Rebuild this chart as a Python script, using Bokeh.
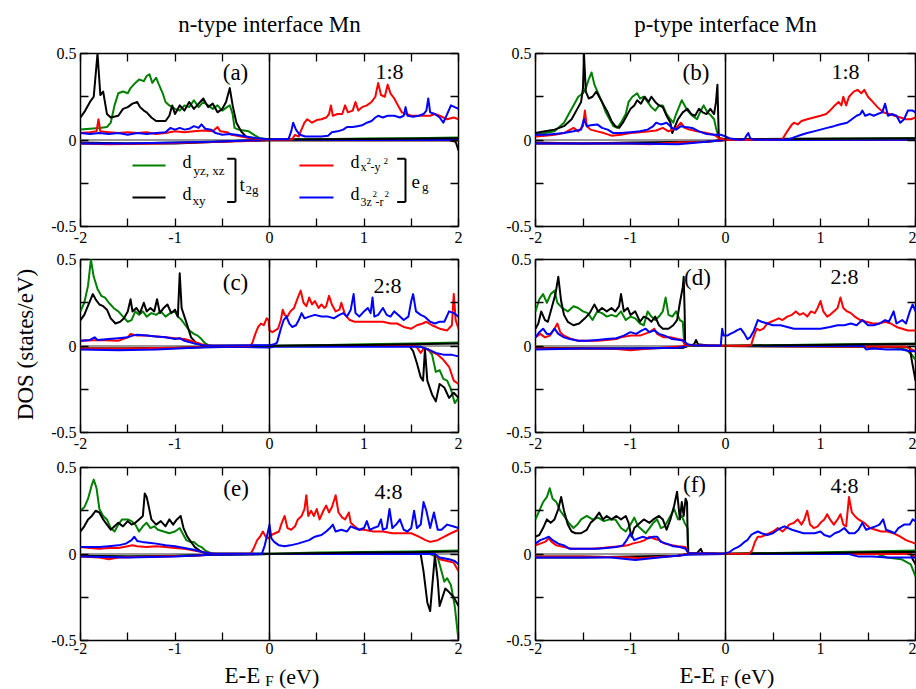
import math
from bokeh.plotting import figure
from bokeh.models import (Range1d, FixedTicker, Span, Label, LinearAxis,
                          CustomJSTickFormatter)
from bokeh.layouts import column, row
from bokeh.embed import file_html
from bokeh.resources import INLINE

FONT = "'Liberation Serif', 'Times New Roman', serif"
COL_YZ, COL_XY, COL_X2, COL_3Z = "#008000", "#000000", "#ff0000", "#0000ff"

X_TICKS = [-2, -1, 0, 1, 2]
X_MINOR = [-1.5, -0.5, 0.5, 1.5]
Y_TICKS = [-0.5, 0, 0.5]
Y_MINOR = [-0.25, 0.25]

COL_TITLES = ["n-type interface Mn", "p-type interface Mn"]
Y_TITLE = "DOS (states/eV)"
PANEL_TAGS = ["(a)", "(b)", "(c)", "(d)", "(e)", "(f)"]
RATIOS = ["1:8", "1:8", "2:8", "2:8", "4:8", "4:8"]
# (tag E, tag D-baseline, ratio E, ratio D-baseline)
TAG_POS = [(-0.36, 0.344, 1.27, 0.355), (-0.311, 0.344, 1.263, 0.355),
           (-0.36, 0.321, 1.249, 0.309), (-0.295, 0.350, 1.253, 0.361),
           (-0.354, 0.332, 1.259, 0.321), (-0.326, 0.355, 1.253, 0.355)]

# ---------------- panel (a): n-type 1:8 ----------------
A_YZ = [(-2.0,0.06),(-1.9,0.065),(-1.8,0.07),(-1.72,0.075),(-1.68,0.1),(-1.64,0.2),(-1.6,0.27),(-1.55,0.28),(-1.5,0.27),(-1.47,0.3),(-1.42,0.33),(-1.38,0.35),(-1.33,0.34),(-1.3,0.37),(-1.27,0.38),(-1.24,0.33),(-1.2,0.36),(-1.17,0.32),(-1.13,0.27),(-1.1,0.22),(-1.06,0.2),(-1.0,0.18),(-0.95,0.17),(-0.9,0.2),(-0.85,0.19),(-0.8,0.23),(-0.75,0.19),(-0.7,0.22),(-0.65,0.2),(-0.6,0.18),(-0.55,0.2),(-0.5,0.17),(-0.45,0.19),(-0.42,0.2),(-0.39,0.15),(-0.37,0.07),(-0.33,0.06),(-0.27,0.055),(-0.22,0.05),(-0.15,0.025),(-0.1,0.01),(0.0,0.005),(0.5,0.005),(1.0,0.008),(1.5,0.01),(2.0,0.015)]
A_XY = [(-2.0,0.13),(-1.95,0.17),(-1.9,0.22),(-1.86,0.25),(-1.82,0.5),(-1.79,0.26),(-1.76,0.28),(-1.72,0.15),(-1.68,0.13),(-1.6,0.14),(-1.55,0.18),(-1.5,0.19),(-1.45,0.21),(-1.4,0.22),(-1.37,0.19),(-1.33,0.17),(-1.3,0.16),(-1.25,0.13),(-1.2,0.11),(-1.1,0.11),(-1.06,0.14),(-1.03,0.2),(-1.0,0.15),(-0.95,0.2),(-0.9,0.17),(-0.85,0.22),(-0.8,0.18),(-0.75,0.21),(-0.7,0.24),(-0.65,0.19),(-0.6,0.21),(-0.55,0.16),(-0.5,0.18),(-0.46,0.22),(-0.42,0.3),(-0.39,0.2),(-0.35,0.1),(-0.3,0.05),(-0.25,0.02),(-0.2,0.01),(-0.1,0.005),(0.0,0.003),(1.0,0.006),(2.0,0.01)]
A_X2 = [(-2.0,0.04),(-1.9,0.045),(-1.83,0.05),(-1.81,0.12),(-1.79,0.05),(-1.7,0.045),(-1.6,0.04),(-1.5,0.045),(-1.4,0.04),(-1.3,0.045),(-1.2,0.035),(-1.1,0.04),(-1.0,0.05),(-0.9,0.045),(-0.8,0.05),(-0.7,0.055),(-0.6,0.05),(-0.55,0.075),(-0.52,0.05),(-0.45,0.045),(-0.4,0.03),(-0.3,0.02),(-0.2,0.01),(-0.1,0.005),(0.0,0.002),(0.2,0.002),(0.24,0.005),(0.27,0.03),(0.31,0.02),(0.33,0.05),(0.37,0.1),(0.4,0.12),(0.45,0.1),(0.5,0.115),(0.55,0.12),(0.6,0.13),(0.63,0.15),(0.65,0.2),(0.67,0.14),(0.72,0.15),(0.77,0.15),(0.8,0.2),(0.83,0.16),(0.88,0.17),(0.91,0.22),(0.94,0.17),(0.98,0.19),(1.03,0.2),(1.08,0.22),(1.12,0.25),(1.15,0.33),(1.18,0.26),(1.22,0.25),(1.25,0.32),(1.28,0.27),(1.32,0.24),(1.36,0.2),(1.4,0.16),(1.45,0.15),(1.5,0.14),(1.6,0.14),(1.7,0.14),(1.75,0.15),(1.8,0.14),(1.88,0.12),(1.95,0.13),(2.0,0.12)]
A_3Z = [(-2.0,0.04),(-1.9,0.035),(-1.8,0.04),(-1.7,0.035),(-1.6,0.04),(-1.5,0.03),(-1.4,0.04),(-1.3,0.035),(-1.2,0.04),(-1.1,0.045),(-1.05,0.07),(-1.0,0.06),(-0.95,0.07),(-0.9,0.06),(-0.85,0.065),(-0.8,0.08),(-0.75,0.07),(-0.72,0.09),(-0.68,0.065),(-0.62,0.06),(-0.57,0.04),(-0.5,0.03),(-0.42,0.035),(-0.35,0.03),(-0.25,0.02),(-0.15,0.012),(-0.05,0.006),(0.0,0.004),(0.2,0.004),(0.23,0.05),(0.25,0.1),(0.28,0.06),(0.32,0.03),(0.38,0.02),(0.45,0.02),(0.55,0.02),(0.62,0.025),(0.66,0.045),(0.72,0.05),(0.78,0.06),(0.82,0.075),(0.88,0.075),(0.93,0.08),(0.98,0.085),(1.03,0.1),(1.08,0.11),(1.12,0.13),(1.15,0.14),(1.2,0.13),(1.25,0.14),(1.32,0.14),(1.38,0.13),(1.42,0.14),(1.44,0.19),(1.46,0.14),(1.52,0.135),(1.58,0.14),(1.63,0.15),(1.66,0.17),(1.68,0.24),(1.7,0.16),(1.75,0.15),(1.8,0.13),(1.84,0.1),(1.88,0.15),(1.92,0.2),(1.96,0.19),(2.0,0.18)]
A_YZ_DN = [(-2.0,-0.02),(-1.5,-0.02),(-1.0,-0.015),(-0.6,-0.01),(-0.3,-0.005),(0.0,-0.002),(2.0,-0.002)]
A_XY_DN = [(-2.0,-0.015),(-1.5,-0.02),(-1.0,-0.02),(-0.6,-0.012),(-0.3,-0.005),(0.0,0.0),(1.9,-0.002),(1.97,-0.01),(2.0,-0.06)]
A_X2_DN = [(-2.0,-0.02),(-1.7,-0.025),(-1.2,-0.02),(-0.8,-0.015),(-0.4,-0.008),(0.0,-0.002),(2.0,-0.002)]
A_3Z_DN = [(-2.0,-0.02),(-1.5,-0.02),(-1.0,-0.015),(-0.6,-0.01),(-0.3,-0.004),(0.0,0.0),(2.0,0.0)]

# ---------------- panel (b): p-type 1:8 ----------------
B_YZ = [(-2.0,0.03),(-1.9,0.04),(-1.8,0.05),(-1.7,0.1),(-1.65,0.15),(-1.6,0.2),(-1.55,0.25),(-1.5,0.27),(-1.47,0.3),(-1.44,0.35),(-1.41,0.39),(-1.38,0.32),(-1.34,0.27),(-1.3,0.22),(-1.26,0.16),(-1.22,0.12),(-1.18,0.08),(-1.14,0.07),(-1.1,0.1),(-1.05,0.15),(-1.02,0.22),(-0.98,0.25),(-0.93,0.27),(-0.9,0.24),(-0.86,0.25),(-0.82,0.22),(-0.78,0.19),(-0.74,0.17),(-0.7,0.2),(-0.66,0.2),(-0.62,0.15),(-0.58,0.12),(-0.55,0.1),(-0.52,0.15),(-0.49,0.19),(-0.46,0.23),(-0.43,0.2),(-0.4,0.17),(-0.35,0.14),(-0.3,0.12),(-0.26,0.17),(-0.23,0.2),(-0.19,0.16),(-0.15,0.14),(-0.12,0.12),(-0.1,0.07),(-0.07,0.01),(0.0,0.005),(2.0,0.01)]
B_XY = [(-2.0,0.04),(-1.9,0.05),(-1.8,0.06),(-1.7,0.08),(-1.62,0.12),(-1.56,0.18),(-1.52,0.22),(-1.5,0.3),(-1.49,0.5),(-1.47,0.28),(-1.44,0.24),(-1.4,0.25),(-1.36,0.28),(-1.32,0.24),(-1.28,0.2),(-1.24,0.16),(-1.2,0.11),(-1.16,0.08),(-1.12,0.07),(-1.08,0.1),(-1.04,0.14),(-1.0,0.18),(-0.96,0.2),(-0.93,0.23),(-0.89,0.21),(-0.85,0.25),(-0.81,0.22),(-0.78,0.25),(-0.74,0.22),(-0.7,0.2),(-0.66,0.19),(-0.62,0.14),(-0.58,0.1),(-0.56,0.04),(-0.53,0.08),(-0.5,0.12),(-0.45,0.16),(-0.4,0.18),(-0.36,0.15),(-0.32,0.14),(-0.28,0.18),(-0.24,0.16),(-0.2,0.15),(-0.16,0.18),(-0.12,0.15),(-0.1,0.22),(-0.085,0.32),(-0.075,0.1),(-0.07,0.01),(0.0,0.005),(2.0,0.01)]
B_X2 = [(-2.0,0.02),(-1.9,0.025),(-1.8,0.03),(-1.7,0.04),(-1.6,0.07),(-1.55,0.05),(-1.5,0.08),(-1.48,0.17),(-1.46,0.08),(-1.42,0.06),(-1.35,0.05),(-1.28,0.04),(-1.2,0.025),(-1.1,0.03),(-1.0,0.04),(-0.9,0.045),(-0.8,0.05),(-0.73,0.055),(-0.66,0.07),(-0.6,0.05),(-0.52,0.07),(-0.47,0.1),(-0.43,0.07),(-0.38,0.06),(-0.3,0.05),(-0.2,0.04),(-0.12,0.03),(-0.07,0.01),(0.0,0.002),(0.55,0.002),(0.6,0.005),(0.65,0.05),(0.7,0.09),(0.72,0.1),(0.76,0.09),(0.8,0.11),(0.86,0.12),(0.93,0.13),(1.0,0.14),(1.06,0.15),(1.1,0.17),(1.15,0.2),(1.19,0.22),(1.22,0.2),(1.24,0.25),(1.27,0.2),(1.3,0.25),(1.35,0.28),(1.39,0.29),(1.43,0.27),(1.46,0.29),(1.5,0.25),(1.55,0.22),(1.6,0.19),(1.66,0.16),(1.72,0.15),(1.78,0.14),(1.84,0.13),(1.9,0.12),(1.95,0.12),(2.0,0.13)]
B_3Z = [(-2.0,0.03),(-1.9,0.03),(-1.8,0.035),(-1.7,0.04),(-1.6,0.05),(-1.52,0.06),(-1.49,0.12),(-1.46,0.08),(-1.42,0.085),(-1.35,0.09),(-1.3,0.07),(-1.24,0.06),(-1.18,0.04),(-1.1,0.04),(-1.0,0.045),(-0.9,0.05),(-0.82,0.06),(-0.76,0.08),(-0.73,0.1),(-0.68,0.09),(-0.62,0.1),(-0.56,0.07),(-0.52,0.06),(-0.47,0.08),(-0.42,0.075),(-0.35,0.07),(-0.28,0.05),(-0.2,0.035),(-0.12,0.03),(-0.05,0.03),(0.0,0.02),(0.05,0.008),(0.15,0.002),(0.2,0.005),(0.22,0.025),(0.24,0.04),(0.26,0.01),(0.3,0.002),(0.6,0.002),(0.67,0.005),(0.72,0.015),(0.8,0.03),(0.86,0.04),(0.93,0.05),(1.0,0.06),(1.07,0.07),(1.14,0.08),(1.2,0.09),(1.28,0.1),(1.33,0.12),(1.38,0.14),(1.42,0.15),(1.44,0.17),(1.47,0.14),(1.52,0.15),(1.56,0.14),(1.6,0.15),(1.65,0.16),(1.68,0.21),(1.71,0.14),(1.75,0.15),(1.8,0.14),(1.84,0.1),(1.88,0.12),(1.92,0.17),(1.97,0.17),(2.0,0.16)]
B_YZ_DN = [(-2.0,-0.02),(-1.5,-0.02),(-1.0,-0.02),(-0.5,-0.015),(-0.2,-0.01),(0.0,0.0),(2.0,0.0)]
B_XY_DN = [(-2.0,-0.015),(-1.5,-0.02),(-1.0,-0.015),(-0.5,-0.012),(-0.2,-0.008),(0.0,0.0),(2.0,0.0)]
B_X2_DN = [(-2.0,-0.02),(-1.5,-0.02),(-1.0,-0.02),(-0.8,-0.025),(-0.5,-0.015),(-0.2,-0.01),(0.0,0.0),(2.0,0.0)]
B_3Z_DN = [(-2.0,-0.02),(-1.5,-0.02),(-1.0,-0.02),(-0.5,-0.025),(-0.2,-0.01),(0.0,0.0),(2.0,0.002)]

# ---------------- panel (c): n-type 2:8 ----------------
C_YZ = [(-2.0,0.2),(-1.96,0.25),(-1.92,0.35),(-1.89,0.5),(-1.86,0.4),(-1.82,0.33),(-1.78,0.29),(-1.74,0.28),(-1.7,0.25),(-1.65,0.22),(-1.6,0.2),(-1.55,0.17),(-1.5,0.14),(-1.46,0.15),(-1.42,0.2),(-1.38,0.18),(-1.34,0.2),(-1.3,0.17),(-1.25,0.19),(-1.2,0.18),(-1.15,0.2),(-1.1,0.17),(-1.05,0.19),(-1.0,0.2),(-0.97,0.17),(-0.93,0.15),(-0.89,0.12),(-0.85,0.09),(-0.8,0.07),(-0.76,0.06),(-0.72,0.04),(-0.69,0.02),(-0.65,0.005),(-0.6,0.002),(0.0,0.002),(0.5,0.005),(1.0,0.01),(1.5,0.015),(2.0,0.02)]
C_XY = [(-2.0,0.15),(-1.96,0.18),(-1.93,0.22),(-1.9,0.26),(-1.87,0.3),(-1.84,0.27),(-1.8,0.24),(-1.76,0.23),(-1.72,0.21),(-1.68,0.16),(-1.63,0.13),(-1.58,0.14),(-1.54,0.16),(-1.5,0.2),(-1.47,0.27),(-1.45,0.2),(-1.41,0.22),(-1.37,0.19),(-1.33,0.25),(-1.3,0.2),(-1.26,0.22),(-1.22,0.2),(-1.19,0.27),(-1.16,0.19),(-1.12,0.22),(-1.08,0.24),(-1.04,0.19),(-1.0,0.21),(-0.97,0.17),(-0.95,0.42),(-0.93,0.22),(-0.9,0.17),(-0.87,0.12),(-0.83,0.05),(-0.78,0.02),(-0.72,0.005),(-0.65,0.002),(0.0,0.002),(0.5,0.004),(1.0,0.006),(1.5,0.01),(2.0,0.015)]
C_X2 = [(-2.0,0.03),(-1.8,0.035),(-1.6,0.03),(-1.5,0.05),(-1.47,0.07),(-1.4,0.06),(-1.3,0.06),(-1.2,0.055),(-1.1,0.05),(-1.0,0.045),(-0.9,0.04),(-0.8,0.025),(-0.72,0.01),(-0.65,0.003),(-0.2,0.002),(-0.18,0.02),(-0.15,0.07),(-0.12,0.11),(-0.09,0.13),(-0.06,0.12),(-0.03,0.16),(-0.01,0.15),(0.0,0.09),(0.03,0.08),(0.06,0.09),(0.09,0.1),(0.12,0.15),(0.14,0.21),(0.16,0.18),(0.19,0.17),(0.22,0.2),(0.26,0.22),(0.3,0.28),(0.33,0.32),(0.36,0.25),(0.39,0.23),(0.42,0.28),(0.45,0.24),(0.48,0.26),(0.52,0.22),(0.55,0.24),(0.58,0.22),(0.6,0.23),(0.63,0.29),(0.66,0.24),(0.7,0.2),(0.74,0.21),(0.76,0.25),(0.8,0.18),(0.85,0.15),(0.9,0.14),(1.0,0.14),(1.1,0.14),(1.2,0.14),(1.28,0.13),(1.35,0.13),(1.42,0.11),(1.5,0.1),(1.56,0.12),(1.62,0.13),(1.66,0.14),(1.72,0.12),(1.8,0.1),(1.88,0.09),(1.93,0.12),(1.95,0.3),(1.97,0.15),(2.0,0.1)]
C_3Z = [(-2.0,0.03),(-1.9,0.035),(-1.85,0.05),(-1.82,0.035),(-1.7,0.04),(-1.6,0.045),(-1.5,0.05),(-1.45,0.06),(-1.4,0.065),(-1.3,0.06),(-1.2,0.055),(-1.1,0.05),(-1.0,0.04),(-0.95,0.045),(-0.9,0.03),(-0.8,0.015),(-0.7,0.005),(-0.6,0.002),(0.0,0.005),(0.05,0.01),(0.08,0.02),(0.1,0.06),(0.12,0.1),(0.15,0.15),(0.18,0.17),(0.21,0.13),(0.24,0.11),(0.28,0.12),(0.31,0.15),(0.34,0.19),(0.37,0.16),(0.42,0.17),(0.48,0.18),(0.55,0.17),(0.62,0.17),(0.68,0.16),(0.74,0.18),(0.78,0.19),(0.82,0.17),(0.86,0.21),(0.89,0.3),(0.91,0.19),(0.95,0.17),(1.0,0.2),(1.04,0.22),(1.07,0.19),(1.09,0.28),(1.11,0.17),(1.15,0.18),(1.2,0.22),(1.24,0.18),(1.28,0.17),(1.32,0.2),(1.36,0.18),(1.42,0.15),(1.47,0.17),(1.5,0.26),(1.52,0.3),(1.55,0.2),(1.6,0.18),(1.64,0.17),(1.7,0.14),(1.75,0.13),(1.8,0.14),(1.85,0.14),(1.9,0.2),(1.95,0.19),(2.0,0.17)]
C_YZ_DN = [(-2.0,-0.015),(-1.5,-0.015),(-1.0,-0.01),(-0.6,-0.005),(0.0,0.0),(1.5,0.0),(1.6,-0.005),(1.68,-0.02),(1.72,-0.05),(1.76,-0.15),(1.8,-0.14),(1.84,-0.19),(1.88,-0.2),(1.92,-0.25),(1.96,-0.33),(2.0,-0.3)]
C_XY_DN = [(-2.0,-0.015),(-1.5,-0.015),(-1.0,-0.012),(-0.6,-0.005),(0.0,0.0),(1.48,0.0),(1.52,-0.03),(1.56,-0.1),(1.6,-0.18),(1.625,-0.2),(1.645,-0.02),(1.67,-0.2),(1.72,-0.28),(1.76,-0.32),(1.8,-0.22),(1.85,-0.24),(1.9,-0.3),(1.95,-0.27),(2.0,-0.3)]
C_X2_DN = [(-2.0,-0.015),(-1.5,-0.015),(-1.0,-0.01),(-0.6,-0.005),(0.0,0.0),(1.55,0.0),(1.6,-0.04),(1.64,-0.01),(1.7,-0.03),(1.78,-0.05),(1.84,-0.08),(1.9,-0.12),(1.95,-0.2),(2.0,-0.22)]
C_3Z_DN = [(-2.0,-0.02),(-1.6,-0.025),(-1.2,-0.02),(-0.8,-0.01),(-0.4,-0.005),(0.0,-0.008),(0.05,-0.005),(1.6,-0.005),(1.68,-0.02),(1.76,-0.04),(1.84,-0.05),(1.92,-0.05),(2.0,-0.06)]

# ---------------- panel (d): p-type 2:8 ----------------
D_YZ = [(-2.0,0.2),(-1.96,0.27),(-1.92,0.3),(-1.88,0.25),(-1.84,0.3),(-1.8,0.32),(-1.77,0.25),(-1.72,0.22),(-1.66,0.2),(-1.6,0.23),(-1.55,0.22),(-1.5,0.2),(-1.45,0.19),(-1.4,0.15),(-1.35,0.2),(-1.3,0.19),(-1.25,0.17),(-1.2,0.18),(-1.15,0.17),(-1.1,0.2),(-1.05,0.15),(-1.0,0.17),(-0.95,0.16),(-0.9,0.13),(-0.86,0.12),(-0.82,0.2),(-0.78,0.17),(-0.74,0.15),(-0.7,0.17),(-0.66,0.2),(-0.63,0.28),(-0.6,0.18),(-0.56,0.17),(-0.52,0.2),(-0.48,0.15),(-0.45,0.14),(-0.435,0.02),(-0.4,0.002),(0.0,0.002),(0.5,0.005),(1.0,0.008),(1.5,0.012),(2.0,0.015)]
D_XY = [(-2.0,0.1),(-1.97,0.13),(-1.94,0.2),(-1.9,0.15),(-1.87,0.14),(-1.83,0.22),(-1.79,0.3),(-1.76,0.4),(-1.73,0.26),(-1.7,0.18),(-1.66,0.14),(-1.6,0.12),(-1.54,0.13),(-1.48,0.16),(-1.43,0.19),(-1.38,0.24),(-1.34,0.2),(-1.3,0.22),(-1.25,0.2),(-1.2,0.22),(-1.16,0.2),(-1.12,0.23),(-1.1,0.3),(-1.07,0.2),(-1.03,0.22),(-1.0,0.18),(-0.95,0.2),(-0.9,0.14),(-0.86,0.17),(-0.82,0.16),(-0.78,0.14),(-0.74,0.17),(-0.7,0.12),(-0.66,0.1),(-0.6,0.1),(-0.55,0.12),(-0.51,0.15),(-0.48,0.25),(-0.45,0.34),(-0.44,0.4),(-0.43,0.2),(-0.425,0.01),(-0.36,0.005),(-0.33,0.01),(-0.31,0.035),(-0.29,0.01),(-0.2,0.005),(0.0,0.002),(0.5,0.004),(1.0,0.006),(1.5,0.01),(2.0,0.012)]
D_X2 = [(-2.0,0.05),(-1.95,0.07),(-1.9,0.05),(-1.85,0.06),(-1.8,0.1),(-1.77,0.13),(-1.74,0.08),(-1.7,0.06),(-1.62,0.04),(-1.55,0.03),(-1.45,0.03),(-1.35,0.03),(-1.25,0.035),(-1.15,0.04),(-1.1,0.05),(-1.0,0.06),(-0.9,0.06),(-0.8,0.08),(-0.75,0.1),(-0.72,0.07),(-0.65,0.05),(-0.58,0.05),(-0.5,0.04),(-0.45,0.035),(-0.43,0.005),(0.0,0.002),(0.2,0.002),(0.27,0.005),(0.3,0.06),(0.33,0.1),(0.36,0.09),(0.4,0.1),(0.44,0.13),(0.48,0.14),(0.52,0.15),(0.56,0.16),(0.6,0.15),(0.65,0.17),(0.7,0.18),(0.74,0.2),(0.78,0.18),(0.82,0.19),(0.86,0.17),(0.9,0.2),(0.94,0.19),(0.97,0.22),(1.0,0.26),(1.03,0.2),(1.07,0.17),(1.1,0.18),(1.14,0.2),(1.18,0.22),(1.21,0.28),(1.24,0.22),(1.28,0.2),(1.32,0.19),(1.36,0.17),(1.42,0.15),(1.48,0.14),(1.55,0.13),(1.62,0.13),(1.68,0.14),(1.74,0.13),(1.8,0.11),(1.86,0.1),(1.92,0.09),(2.0,0.09)]
D_3Z = [(-2.0,0.05),(-1.96,0.08),(-1.92,0.1),(-1.88,0.07),(-1.84,0.07),(-1.8,0.1),(-1.76,0.07),(-1.7,0.05),(-1.64,0.04),(-1.55,0.03),(-1.45,0.03),(-1.35,0.035),(-1.25,0.04),(-1.15,0.045),(-1.07,0.06),(-1.0,0.08),(-0.94,0.07),(-0.88,0.09),(-0.84,0.1),(-0.8,0.08),(-0.75,0.09),(-0.7,0.07),(-0.64,0.06),(-0.56,0.04),(-0.48,0.035),(-0.44,0.03),(-0.4,0.01),(-0.35,0.005),(-0.05,0.002),(-0.035,0.1),(-0.02,0.06),(0.02,0.06),(0.05,0.07),(0.09,0.08),(0.12,0.09),(0.16,0.1),(0.2,0.07),(0.23,0.04),(0.26,0.05),(0.3,0.09),(0.34,0.15),(0.38,0.14),(0.44,0.13),(0.5,0.12),(0.58,0.12),(0.65,0.11),(0.72,0.1),(0.8,0.1),(0.9,0.1),(1.0,0.1),(1.1,0.11),(1.18,0.12),(1.25,0.12),(1.32,0.13),(1.38,0.12),(1.44,0.15),(1.5,0.12),(1.56,0.12),(1.62,0.13),(1.68,0.15),(1.72,0.14),(1.77,0.2),(1.8,0.13),(1.86,0.15),(1.9,0.13),(1.94,0.2),(1.97,0.24),(2.0,0.2)]
D_YZ_DN = [(-2.0,-0.015),(-1.0,-0.015),(-0.45,-0.01),(-0.4,0.0),(0.0,0.0),(1.6,-0.005),(1.8,-0.01),(1.9,-0.02),(1.96,-0.05),(2.0,-0.08)]
D_XY_DN = [(-2.0,-0.012),(-1.0,-0.015),(-0.45,-0.01),(-0.4,0.0),(0.0,0.0),(1.9,-0.005),(1.94,-0.01),(1.96,-0.08),(2.0,-0.2)]
D_X2_DN = [(-2.0,-0.015),(-1.2,-0.015),(-1.0,-0.025),(-0.8,-0.015),(-0.4,0.0),(0.0,0.0),(1.9,-0.005),(2.0,-0.03)]
D_3Z_DN = [(-2.0,-0.02),(-1.5,-0.015),(-1.0,-0.015),(-0.5,-0.01),(-0.4,0.0),(0.0,0.0),(1.45,0.0),(1.48,-0.02),(1.55,-0.015),(1.7,-0.02),(1.85,-0.02),(1.95,-0.03),(2.0,-0.03)]

# ---------------- panel (e): n-type 4:8 ----------------
E_YZ = [(-2.0,0.25),(-1.96,0.27),(-1.92,0.32),(-1.88,0.4),(-1.86,0.43),(-1.83,0.38),(-1.8,0.26),(-1.76,0.22),(-1.72,0.2),(-1.68,0.15),(-1.64,0.13),(-1.6,0.17),(-1.56,0.2),(-1.5,0.2),(-1.46,0.19),(-1.42,0.17),(-1.38,0.13),(-1.34,0.16),(-1.3,0.18),(-1.26,0.15),(-1.22,0.16),(-1.18,0.14),(-1.12,0.13),(-1.06,0.12),(-1.0,0.13),(-0.95,0.15),(-0.92,0.12),(-0.88,0.08),(-0.84,0.07),(-0.8,0.07),(-0.76,0.05),(-0.72,0.04),(-0.68,0.02),(-0.62,0.005),(-0.55,0.002),(0.0,0.002),(0.5,0.008),(1.0,0.012),(1.5,0.015),(2.0,0.02)]
E_XY = [(-2.0,0.13),(-1.96,0.16),(-1.92,0.2),(-1.88,0.22),(-1.84,0.25),(-1.8,0.24),(-1.76,0.2),(-1.72,0.17),(-1.68,0.14),(-1.64,0.16),(-1.6,0.18),(-1.55,0.16),(-1.5,0.19),(-1.46,0.17),(-1.42,0.18),(-1.38,0.2),(-1.34,0.22),(-1.32,0.35),(-1.3,0.33),(-1.28,0.28),(-1.25,0.2),(-1.2,0.17),(-1.15,0.19),(-1.1,0.16),(-1.06,0.2),(-1.02,0.17),(-0.98,0.2),(-0.94,0.22),(-0.91,0.15),(-0.87,0.1),(-0.83,0.07),(-0.79,0.04),(-0.74,0.02),(-0.68,0.005),(-0.6,0.002),(0.0,0.002),(0.5,0.005),(1.0,0.008),(1.5,0.01),(2.0,0.015)]
E_X2 = [(-2.0,0.04),(-1.9,0.035),(-1.8,0.03),(-1.7,0.035),(-1.6,0.035),(-1.5,0.045),(-1.45,0.05),(-1.4,0.045),(-1.3,0.04),(-1.2,0.045),(-1.1,0.04),(-1.0,0.035),(-0.9,0.03),(-0.8,0.02),(-0.7,0.01),(-0.6,0.003),(-0.2,0.002),(-0.17,0.03),(-0.13,0.08),(-0.1,0.1),(-0.07,0.13),(-0.04,0.1),(-0.01,0.09),(0.02,0.11),(0.06,0.12),(0.1,0.13),(0.13,0.18),(0.16,0.22),(0.19,0.15),(0.23,0.14),(0.27,0.16),(0.3,0.2),(0.34,0.22),(0.37,0.26),(0.39,0.34),(0.41,0.22),(0.44,0.25),(0.47,0.22),(0.5,0.26),(0.53,0.2),(0.57,0.25),(0.6,0.28),(0.63,0.24),(0.66,0.27),(0.7,0.34),(0.73,0.24),(0.77,0.21),(0.8,0.2),(0.84,0.24),(0.86,0.18),(0.9,0.16),(0.95,0.14),(1.0,0.14),(1.1,0.13),(1.2,0.13),(1.3,0.12),(1.4,0.12),(1.5,0.12),(1.58,0.1),(1.65,0.08),(1.7,0.07),(1.78,0.08),(1.85,0.1),(1.92,0.12),(2.0,0.14)]
E_3Z = [(-2.0,0.04),(-1.9,0.04),(-1.8,0.04),(-1.7,0.045),(-1.6,0.05),(-1.52,0.06),(-1.46,0.08),(-1.43,0.1),(-1.4,0.075),(-1.35,0.07),(-1.28,0.065),(-1.2,0.06),(-1.1,0.05),(-1.0,0.045),(-0.9,0.035),(-0.8,0.025),(-0.7,0.01),(-0.6,0.002),(-0.08,0.002),(-0.05,0.05),(-0.02,0.12),(0.0,0.17),(0.02,0.09),(0.05,0.07),(0.1,0.05),(0.16,0.045),(0.22,0.05),(0.3,0.06),(0.36,0.07),(0.42,0.08),(0.48,0.1),(0.55,0.11),(0.6,0.13),(0.64,0.15),(0.67,0.17),(0.7,0.13),(0.76,0.14),(0.82,0.13),(0.86,0.16),(0.9,0.15),(0.95,0.14),(1.0,0.15),(1.03,0.19),(1.06,0.14),(1.1,0.15),(1.15,0.16),(1.18,0.2),(1.2,0.14),(1.24,0.15),(1.27,0.26),(1.3,0.15),(1.34,0.17),(1.38,0.2),(1.42,0.14),(1.46,0.13),(1.5,0.15),(1.53,0.25),(1.56,0.15),(1.6,0.17),(1.63,0.3),(1.66,0.25),(1.7,0.15),(1.74,0.24),(1.78,0.14),(1.82,0.14),(1.88,0.17),(1.94,0.16),(2.0,0.15)]
E_YZ_DN = [(-2.0,-0.01),(-1.5,-0.015),(-1.0,-0.01),(-0.6,-0.005),(0.0,0.0),(1.7,0.0),(1.78,-0.02),(1.82,-0.1),(1.85,-0.16),(1.88,-0.14),(1.92,-0.18),(1.96,-0.3),(2.0,-0.5)]
E_XY_DN = [(-2.0,-0.01),(-1.5,-0.015),(-1.0,-0.012),(-0.6,-0.005),(0.0,0.0),(1.6,0.0),(1.63,-0.1),(1.67,-0.28),(1.7,-0.33),(1.72,-0.2),(1.75,-0.01),(1.78,-0.15),(1.8,-0.3),(1.83,-0.25),(1.86,-0.2),(1.9,-0.22),(1.95,-0.25),(2.0,-0.3)]
E_X2_DN = [(-2.0,-0.015),(-1.8,-0.02),(-1.7,-0.03),(-1.6,-0.02),(-1.2,-0.015),(-0.8,-0.01),(-0.5,0.0),(0.0,0.0),(1.75,0.0),(1.8,-0.03),(1.88,-0.04),(1.95,-0.05),(2.0,-0.1)]
E_3Z_DN = [(-2.0,-0.015),(-1.5,-0.02),(-1.0,-0.015),(-0.6,-0.005),(0.0,0.0),(1.75,0.0),(1.8,-0.02),(1.9,-0.03),(1.96,-0.04),(2.0,-0.06)]

# ---------------- panel (f): p-type 4:8 ----------------
F_YZ = [(-2.0,0.2),(-1.96,0.25),(-1.92,0.3),(-1.88,0.33),(-1.85,0.38),(-1.82,0.32),(-1.78,0.3),(-1.74,0.25),(-1.7,0.22),(-1.65,0.18),(-1.6,0.15),(-1.56,0.17),(-1.52,0.2),(-1.46,0.22),(-1.4,0.2),(-1.34,0.21),(-1.28,0.19),(-1.22,0.2),(-1.16,0.2),(-1.1,0.15),(-1.05,0.13),(-1.0,0.17),(-0.96,0.21),(-0.92,0.16),(-0.88,0.14),(-0.84,0.12),(-0.8,0.15),(-0.76,0.18),(-0.72,0.2),(-0.68,0.15),(-0.64,0.16),(-0.6,0.2),(-0.56,0.24),(-0.54,0.26),(-0.5,0.2),(-0.46,0.22),(-0.43,0.18),(-0.4,0.15),(-0.39,0.005),(0.0,0.002),(0.5,0.006),(1.0,0.01),(1.5,0.015),(2.0,0.02)]
F_XY = [(-2.0,0.1),(-1.96,0.11),(-1.92,0.15),(-1.88,0.2),(-1.84,0.18),(-1.8,0.2),(-1.76,0.26),(-1.73,0.33),(-1.7,0.25),(-1.66,0.17),(-1.62,0.13),(-1.58,0.12),(-1.52,0.12),(-1.46,0.14),(-1.42,0.18),(-1.38,0.2),(-1.33,0.24),(-1.29,0.2),(-1.25,0.22),(-1.2,0.2),(-1.15,0.22),(-1.1,0.2),(-1.05,0.22),(-1.02,0.18),(-0.99,0.1),(-0.96,0.15),(-0.92,0.17),(-0.86,0.2),(-0.8,0.18),(-0.76,0.2),(-0.7,0.22),(-0.66,0.2),(-0.62,0.14),(-0.58,0.2),(-0.54,0.28),(-0.51,0.36),(-0.48,0.2),(-0.46,0.3),(-0.44,0.22),(-0.42,0.32),(-0.405,0.3),(-0.395,0.005),(-0.3,0.005),(-0.26,0.03),(-0.24,0.005),(0.0,0.002),(0.5,0.004),(1.0,0.006),(1.5,0.01),(2.0,0.012)]
F_X2 = [(-2.0,0.05),(-1.95,0.06),(-1.9,0.07),(-1.86,0.09),(-1.83,0.07),(-1.78,0.05),(-1.7,0.04),(-1.62,0.03),(-1.5,0.03),(-1.4,0.03),(-1.3,0.035),(-1.2,0.04),(-1.1,0.045),(-1.03,0.05),(-0.98,0.06),(-0.9,0.07),(-0.85,0.08),(-0.8,0.1),(-0.76,0.09),(-0.7,0.08),(-0.64,0.06),(-0.56,0.05),(-0.5,0.045),(-0.42,0.04),(-0.39,0.005),(0.0,0.002),(0.25,0.002),(0.28,0.02),(0.31,0.07),(0.34,0.1),(0.38,0.1),(0.42,0.11),(0.46,0.12),(0.5,0.13),(0.55,0.15),(0.6,0.13),(0.64,0.15),(0.67,0.17),(0.72,0.18),(0.76,0.2),(0.8,0.17),(0.83,0.2),(0.86,0.25),(0.89,0.17),(0.93,0.15),(0.97,0.16),(1.0,0.18),(1.04,0.2),(1.07,0.23),(1.1,0.2),(1.14,0.17),(1.18,0.2),(1.21,0.23),(1.24,0.17),(1.27,0.16),(1.3,0.33),(1.33,0.24),(1.36,0.22),(1.4,0.2),(1.46,0.18),(1.52,0.15),(1.58,0.14),(1.64,0.13),(1.7,0.13),(1.77,0.12),(1.84,0.1),(1.9,0.08),(1.95,0.07),(2.0,0.06)]
F_3Z = [(-2.0,0.06),(-1.95,0.08),(-1.9,0.09),(-1.86,0.1),(-1.82,0.08),(-1.76,0.06),(-1.7,0.05),(-1.64,0.03),(-1.55,0.03),(-1.45,0.03),(-1.35,0.03),(-1.25,0.035),(-1.15,0.04),(-1.08,0.05),(-1.04,0.08),(-1.0,0.12),(-0.96,0.08),(-0.92,0.09),(-0.87,0.1),(-0.82,0.09),(-0.76,0.1),(-0.72,0.1),(-0.68,0.07),(-0.62,0.06),(-0.55,0.045),(-0.48,0.04),(-0.42,0.03),(-0.39,0.005),(-0.05,0.002),(0.0,0.005),(0.04,0.01),(0.09,0.03),(0.13,0.04),(0.16,0.05),(0.2,0.07),(0.23,0.08),(0.27,0.11),(0.3,0.12),(0.34,0.13),(0.38,0.12),(0.44,0.11),(0.5,0.12),(0.55,0.14),(0.58,0.15),(0.62,0.16),(0.66,0.15),(0.7,0.14),(0.76,0.13),(0.82,0.12),(0.88,0.12),(0.94,0.12),(1.0,0.13),(1.04,0.11),(1.1,0.1),(1.15,0.12),(1.2,0.13),(1.25,0.15),(1.3,0.12),(1.36,0.12),(1.4,0.14),(1.44,0.18),(1.48,0.14),(1.53,0.15),(1.58,0.16),(1.62,0.17),(1.66,0.2),(1.69,0.14),(1.74,0.13),(1.78,0.12),(1.82,0.15),(1.88,0.17),(1.94,0.17),(1.97,0.2),(2.0,0.19)]
F_YZ_DN = [(-2.0,-0.015),(-1.5,-0.015),(-1.0,-0.02),(-0.5,-0.01),(-0.4,0.0),(0.0,0.0),(1.6,0.0),(1.7,-0.02),(1.85,-0.03),(1.95,-0.06),(2.0,-0.13)]
F_XY_DN = [(-2.0,-0.02),(-1.5,-0.02),(-1.0,-0.015),(-0.5,-0.01),(-0.4,0.0),(0.0,0.0),(1.95,0.0),(1.97,-0.03),(2.0,-0.06)]
F_X2_DN = [(-2.0,-0.015),(-1.5,-0.015),(-1.0,-0.02),(-0.9,-0.025),(-0.5,-0.01),(-0.4,0.0),(0.0,0.0),(1.95,0.0),(2.0,-0.02)]
F_3Z_DN = [(-2.0,-0.02),(-1.5,-0.02),(-1.2,-0.02),(-0.95,-0.035),(-0.7,-0.02),(-0.4,-0.005),(0.0,0.0),(1.3,0.0),(1.4,-0.015),(1.55,-0.015),(1.7,-0.02),(1.85,-0.02),(2.0,-0.02)]

PANEL_CURVES = [
    (A_YZ, A_XY, A_X2, A_3Z, A_YZ_DN, A_XY_DN, A_X2_DN, A_3Z_DN),
    (B_YZ, B_XY, B_X2, B_3Z, B_YZ_DN, B_XY_DN, B_X2_DN, B_3Z_DN),
    (C_YZ, C_XY, C_X2, C_3Z, C_YZ_DN, C_XY_DN, C_X2_DN, C_3Z_DN),
    (D_YZ, D_XY, D_X2, D_3Z, D_YZ_DN, D_XY_DN, D_X2_DN, D_3Z_DN),
    (E_YZ, E_XY, E_X2, E_3Z, E_YZ_DN, E_XY_DN, E_X2_DN, E_3Z_DN),
    (F_YZ, F_XY, F_X2, F_3Z, F_YZ_DN, F_XY_DN, F_X2_DN, F_3Z_DN),
]
CURVE_COLORS = [COL_YZ, COL_XY, COL_X2, COL_3Z]

# legend (drawn inside panel a), data coords of panel (a)
LEG_SAMPLES = [(-1.45, -1.10, -0.147, COL_YZ), (-1.45, -1.10, -0.332, COL_XY),
               (0.317, 0.677, -0.147, COL_X2), (0.317, 0.677, -0.332, COL_3Z)]
LEG_TEXT = [("d", -0.921, -0.159, 18), ("yz, xz", -0.804, -0.199, 13),
            ("d", -0.921, -0.349, 18), ("xy", -0.815, -0.373, 13),
            ("t", -0.317, -0.291, 19), ("2g", -0.254, -0.309, 13),
            ("d", 0.857, -0.159, 18), ("x", 0.963, -0.177, 12), ("2", 1.026, -0.136, 9),
            ("-y", 1.069, -0.177, 12), ("2", 1.206, -0.136, 9),
            ("d", 0.857, -0.349, 18), ("3z", 0.963, -0.379, 12), ("2", 1.09, -0.332, 9),
            ("-r", 1.122, -0.379, 12), ("2", 1.217, -0.332, 9),
            ("e", 1.503, -0.274, 19), ("g", 1.615, -0.292, 13)]
# brackets: (arm start E, vertical E, top D, bottom D)
LEG_BRACKETS = [(-0.448, -0.360, -0.108, -0.359), (1.351, 1.439, -0.108, -0.359)]

# x-label pieces inside the caption strip: (text, E, baseline px above strip bottom, size)
XLAB = [[("E-E", -0.476, 6, 23), ("F", -0.045, 3.5, 15), ("(eV)", 0.100, 6, 22)],
        [("E-E", -0.484, 6, 23), ("F", -0.056, 3.5, 15), ("(eV)", 0.089, 6, 22)]]

# layout (pixels)
YLAB_W = 40
COL_W = [435, 441]
BORDER_L = [40, 60]
BORDER_R = [17, 1]
TITLE_H = 40
TITLE_BASE = 8.5
XLAB_H = 28
TOPS = [13, 8, 10]
BOTS = [25, 25, 21]
BELOW_STANDOFF = [5, 5, 2]
FRAME_H = 173
TOTAL_H = TITLE_H + sum(TOPS) + sum(BOTS) + 3 * FRAME_H + XLAB_H
BASE_SHIFT_EM = 0.33   # baseline correction for rendered labels


def base_y(y, size, px_per_unit):
    return y + BASE_SHIFT_EM * size / px_per_unit


def add_axes(p, below_standoff):
    for loc in ("below", "above", "left", "right"):
        horiz = loc in ("below", "above")
        ax = LinearAxis(ticker=FixedTicker(ticks=X_TICKS if horiz else Y_TICKS,
                                           minor_ticks=X_MINOR if horiz else Y_MINOR))
        ax.axis_line_color = None
        ax.major_tick_in = 8
        ax.major_tick_out = 0
        ax.minor_tick_in = 8
        ax.minor_tick_out = 0
        ax.major_tick_line_width = 1.3
        ax.minor_tick_line_width = 1.3
        ax.major_tick_line_color = "black"
        ax.minor_tick_line_color = "black"
        if loc in ("below", "left"):
            ax.formatter = CustomJSTickFormatter(code="return String(tick);")
            ax.major_label_text_font = FONT
            ax.major_label_text_font_size = "16px"
            ax.major_label_text_color = "black"
            ax.major_label_standoff = below_standoff if loc == "below" else 4
        else:
            ax.major_label_text_color = None
            ax.major_label_standoff = 0
        p.add_layout(ax, loc)


def blank_fig(width, height, xr, yr, bl=0, br=0):
    p = figure(width=width, height=height, x_range=xr, y_range=yr,
               output_backend="svg", toolbar_location=None,
               x_axis_location=None, y_axis_location=None,
               min_border_left=bl, min_border_right=br,
               min_border_top=0, min_border_bottom=0)
    p.xgrid.visible = False
    p.ygrid.visible = False
    p.outline_line_color = None
    p.background_fill_color = "white"
    p.border_fill_color = "white"
    return p


def text_label(x, y, t, size, align="left"):
    return Label(x=x, y=y, text=t, text_font=FONT, text_font_size=f"{size}px",
                 text_align=align, text_baseline="alphabetic", text_color="black")


def make_panel(idx):
    r, c = divmod(idx, 2)
    p = figure(width=COL_W[c], height=TOPS[r] + FRAME_H + BOTS[r],
               x_range=Range1d(-2, 2), y_range=Range1d(-0.5, 0.5),
               output_backend="svg", toolbar_location=None,
               x_axis_location=None, y_axis_location=None,
               min_border_left=BORDER_L[c], min_border_right=BORDER_R[c],
               min_border_top=TOPS[r], min_border_bottom=BOTS[r])
    p.xgrid.visible = False
    p.ygrid.visible = False
    p.outline_line_color = "black"
    p.outline_line_width = 1.5
    p.background_fill_color = "white"
    p.border_fill_color = "white"
    add_axes(p, BELOW_STANDOFF[r])

    p.add_layout(Span(location=0, dimension="width", line_color="#9a9a9a",
                      line_width=2, level="underlay"))
    p.add_layout(Span(location=0, dimension="height", line_color="black", line_width=1.5))

    curves = PANEL_CURVES[idx]
    for k in (4, 5, 6, 7, 0, 1, 2, 3):
        pts = curves[k]
        p.line([q[0] for q in pts], [q[1] for q in pts],
               line_color=CURVE_COLORS[k % 4], line_width=2, line_join="round")

    tx, ty, rx, ry = TAG_POS[idx]
    p.add_layout(text_label(tx, base_y(ty, 23, FRAME_H), PANEL_TAGS[idx], 23, "center"))
    p.add_layout(text_label(rx, base_y(ry, 22, FRAME_H), RATIOS[idx], 22, "center"))

    if idx == 0:
        for x0, x1, yy, col in LEG_SAMPLES:
            p.segment(x0=[x0], y0=[yy], x1=[x1], y1=[yy], line_color=col, line_width=2)
        for xa, xv, yt, yb in LEG_BRACKETS:
            p.segment(x0=[xa, xv, xa], y0=[yt, yt, yb], x1=[xv, xv, xv], y1=[yt, yb, yb],
                      line_color="black", line_width=2)
        for t, ex, ey, sz in LEG_TEXT:
            p.add_layout(text_label(ex, base_y(ey, sz, FRAME_H), t, sz))
    return p


def make_title(c):
    p = blank_fig(COL_W[c], TITLE_H, Range1d(-2, 2), Range1d(0, TITLE_H),
                  BORDER_L[c], BORDER_R[c])
    p.add_layout(text_label(0, base_y(TITLE_BASE, 23, 1), COL_TITLES[c], 23, "center"))
    return p


def make_xlabel(c):
    p = blank_fig(COL_W[c], XLAB_H, Range1d(-2, 2), Range1d(0, XLAB_H),
                  BORDER_L[c], BORDER_R[c])
    for t, ex, yb, sz in XLAB[c]:
        p.add_layout(text_label(ex, base_y(yb, sz, 1), t, sz))
    return p


def make_ylabel():
    p = blank_fig(YLAB_W, TOTAL_H, Range1d(0, YLAB_W), Range1d(0, TOTAL_H))
    p.add_layout(Label(x=25, y=TOTAL_H - 344, text=Y_TITLE, angle=math.pi / 2,
                       text_font=FONT, text_font_size="23px", text_align="center",
                       text_baseline="middle", text_color="black"))
    return p


panels = [make_panel(i) for i in range(6)]
grid = column(row(make_title(0), make_title(1)),
              row(panels[0], panels[1]), row(panels[2], panels[3]),
              row(panels[4], panels[5]),
              row(make_xlabel(0), make_xlabel(1)))
layout = row(make_ylabel(), grid)

open("out.html", "w").write(file_html(layout, INLINE))
